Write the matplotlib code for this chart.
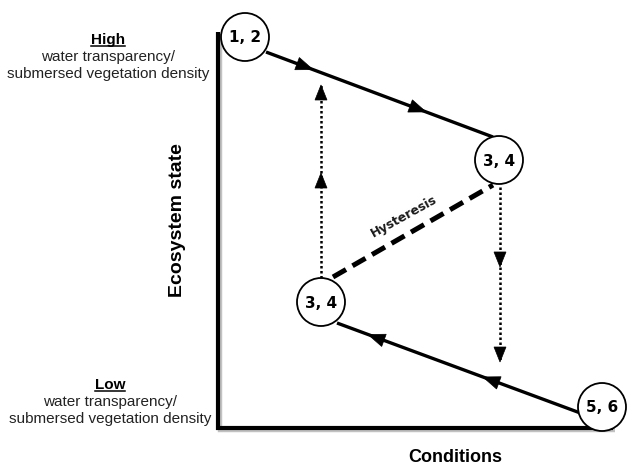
import numpy as np
import matplotlib
matplotlib.use("Agg")
import matplotlib.pyplot as plt
from matplotlib.patches import Circle, Polygon

# ---- diagram data (pixel space of the original figure) ----
node_labels = ["1, 2", "3, 4", "3, 4", "5, 6"]
node_x = [245, 499, 321, 602]
node_y = [37, 160, 302, 407]
node_r = 24

# solid path segments: (x0, y0, x1, y1) and arrow tip fractions
solid_segments = [(266, 52, 493, 137), (583, 414, 337, 323)]
solid_arrow_fracs = [[0.207, 0.705], [0.407, 0.874]]

# dotted vertical transitions
dotted_segments = [(321, 278, 321, 85), (500, 187, 500, 362)]
dotted_arrow_fracs = [[0.544, 1.0], [0.457, 1.0]]

# hysteresis dashed line
hyst_segment = (333, 277, 493, 185)

axis_x0, axis_y0 = 218, 428
axis_top, axis_right = 32, 613

fig = plt.figure(figsize=(6.27, 4.70), dpi=100)
ax = fig.add_axes([0, 0, 1, 1])
ax.set_xlim(0, 627)
ax.set_ylim(470, 0)
ax.axis("off")

SANS = "Liberation Sans"

def arrowhead(tipx, tipy, dx, dy, L, W, z=5):
    n = np.hypot(dx, dy)
    ux, uy = dx / n, dy / n
    px, py = -uy, ux
    bx, by = tipx - L * ux, tipy - L * uy
    pts = [(tipx, tipy), (bx + W / 2 * px, by + W / 2 * py), (bx - W / 2 * px, by - W / 2 * py)]
    ax.add_patch(Polygon(pts, closed=True, fc="black", ec="black", lw=0.5, zorder=z))

# axes lines (with faint shadow)
ax.plot([axis_x0 + 1.5, axis_x0 + 1.5, axis_right + 1.5], [axis_top + 1.5, axis_y0 + 1.5, axis_y0 + 1.5],
        color="#9a9a9a", lw=3.2, solid_joinstyle="miter", solid_capstyle="butt", zorder=1, alpha=0.6)
ax.plot([axis_x0, axis_x0, axis_right], [axis_top, axis_y0, axis_y0], color="black",
        lw=3.0, solid_joinstyle="miter", solid_capstyle="butt", zorder=2)

# solid lines with arrows
for (x0, y0, x1, y1), fr in zip(solid_segments, solid_arrow_fracs):
    ax.plot([x0, x1], [y0, y1], color="black", lw=2.4, zorder=3, solid_capstyle="butt")
    for t in fr:
        arrowhead(x0 + t * (x1 - x0), y0 + t * (y1 - y0), x1 - x0, y1 - y0, 17, 13)

# dotted lines with arrows
for (x0, y0, x1, y1), fr in zip(dotted_segments, dotted_arrow_fracs):
    ax.plot([x0, x1], [y0, y1], color="black", lw=1.8, ls=(0, (1, 1)), zorder=3)
    for t in fr:
        arrowhead(x0 + t * (x1 - x0), y0 + t * (y1 - y0), x1 - x0, y1 - y0, 15, 12)

# hysteresis dashed line
hx0, hy0, hx1, hy1 = hyst_segment
ax.plot([hx0, hx1], [hy0, hy1], color="black", lw=3.6, ls=(0, (3, 1.5)), zorder=3,
        solid_capstyle="butt", dash_capstyle="butt")
ax.text(404, 216, "Hysteresis", rotation=29, ha="center", va="center",
        fontsize=9, fontweight="bold", family="DejaVu Sans", color="#1a1a1a")

# nodes
for lab, x, y in zip(node_labels, node_x, node_y):
    ax.add_patch(Circle((x, y), node_r, fc="white", ec="black", lw=1.3, zorder=6))
    ax.text(x, y + 1, lab, ha="center", va="center", fontsize=11, fontweight="bold",
            family="DejaVu Sans", zorder=7)

# axis titles
ax.text(177, 220, "Ecosystem state", rotation=90, ha="center", va="center",
        fontsize=14, fontweight="bold", family=SANS)
ax.text(455, 458, "Conditions", ha="center", va="center",
        fontsize=13, fontweight="bold", family=SANS)

# High / Low annotations
blocks = [("High", 108, 40), ("Low", 110, 385)]
heads = []
for word, x, y in blocks:
    h = ax.text(x, y, word, ha="center", va="center", fontsize=11, fontweight="bold", family=SANS)
    heads.append(h)
    ax.text(x, y + 17, "water transparency/", ha="center", va="center", fontsize=11, family=SANS,
            color="#222222")
    ax.text(x, y + 34, "submersed vegetation density", ha="center", va="center", fontsize=11,
            family=SANS, color="#222222")

fig.canvas.draw()
r = fig.canvas.get_renderer()
inv = ax.transData.inverted()
for h in heads:
    bb = h.get_window_extent(renderer=r)
    (xa, ya), (xb, yb) = inv.transform([(bb.x0, bb.y0), (bb.x1, bb.y1)])
    yl = max(ya, yb) - 1.5
    ax.plot([xa, xb], [yl, yl], color="black", lw=1.1)

fig.savefig("out.png", dpi=100)
